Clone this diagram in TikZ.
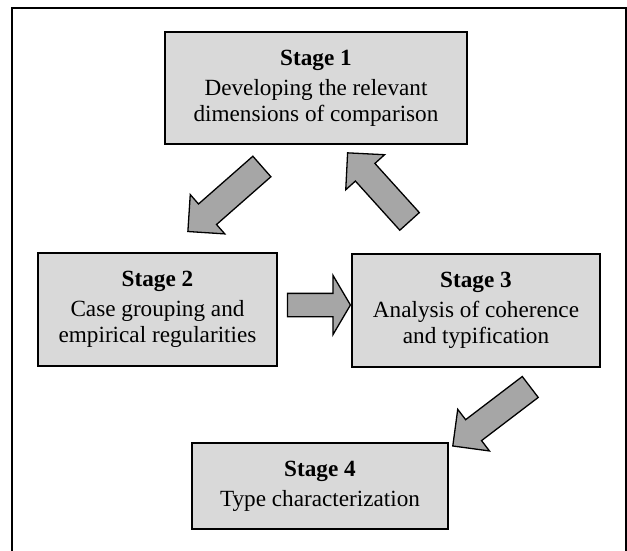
\documentclass[tikz,border=0pt]{standalone}
\usepackage{fontspec}
\setmainfont{Liberation Serif}
\usetikzlibrary{shapes.arrows}
\def\fsize{23.2}
\def\headgap{4pt}

\begin{document}
\begin{tikzpicture}[x=1pt,y=-1pt,
  stagebox/.style={draw,line width=1.6pt,fill=black!15,align=center,inner sep=0pt,
    font=\fontsize{\fsize}{26}\selectfont},
  blockarrow/.style={single arrow,draw,line width=1.3pt,fill=black!35,
    inner sep=#1,outer sep=0pt}]
\useasboundingbox (0,0) rectangle (627,551);
\draw[line width=1.6pt] (12,551) -- (12,8) -- (626,8) -- (626,551);
% stages
\node[stagebox,minimum width=302pt,minimum height=112pt] (stage1) at (316,88)
  {\textbf{Stage 1}\\[\headgap]Developing the relevant\\dimensions of comparison};
\node[stagebox,minimum width=239pt,minimum height=113pt] (stage2) at (157.5,309.5)
  {\textbf{Stage 2}\\[\headgap]Case grouping and\\empirical regularities};
\node[stagebox,minimum width=248pt,minimum height=113pt] (stage3) at (476,310.5)
  {\textbf{Stage 3}\\[\headgap]Analysis of coherence\\and typification};
\node[stagebox,minimum width=256pt,minimum height=86pt] (stage4) at (320,486)
  {\textbf{Stage 4}\\[\headgap]Type characterization};
% arrows
\node[blockarrow=13pt,minimum height=98.5pt,single arrow head extend=12.5pt,
  rotate=221.3] (arr12) at (230,194.5) {};
\node[blockarrow=12.5pt,minimum height=92.4pt,single arrow head extend=13pt,
  rotate=132.1] (arr31) at (383,192) {};
\node[blockarrow=11pt,minimum height=63pt,single arrow head extend=18pt,
  single arrow tip angle=119] (arr23) at (315.5,305) {};
\node[blockarrow=12.5pt,minimum height=97.4pt,single arrow head extend=13pt,
  rotate=217.3] (arr34) at (496.75,412.5) {};
\end{tikzpicture}
\end{document}
